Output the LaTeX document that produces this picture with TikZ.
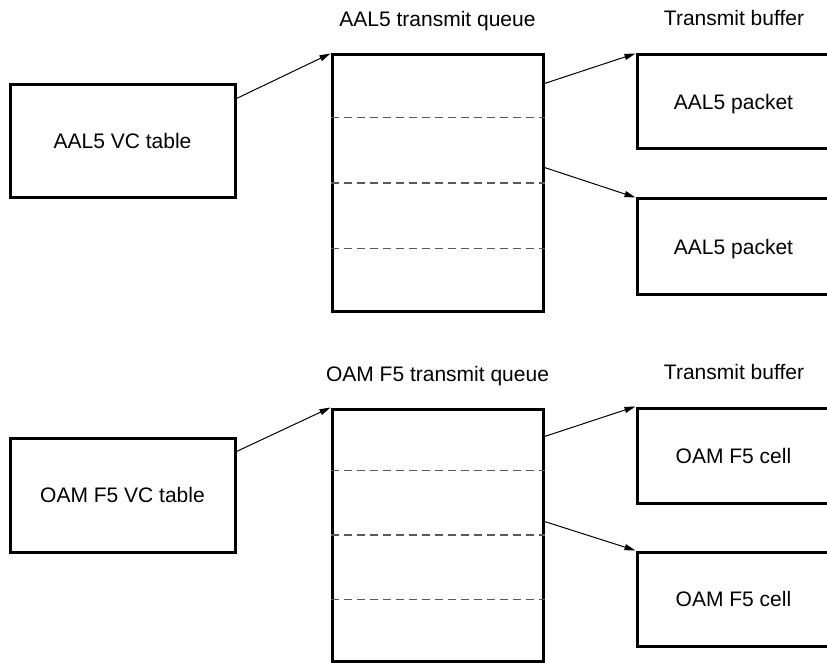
\documentclass[tikz,border=0pt]{standalone}
\usepackage{fontspec}
\setmainfont{Liberation Sans}
\usetikzlibrary{arrows.meta}
\begin{document}
\begin{tikzpicture}[x=1pt,y=-1pt,
  box/.style={draw, line width=3pt, inner sep=0pt, font=\fontsize{21}{25}\selectfont, text height=15pt, text depth=0pt},
  lbl/.style={font=\fontsize{21}{25}\selectfont, anchor=base, inner sep=0pt},
  sep/.style={draw=black!65, dash pattern=on 8pt off 5pt, line width=1.1pt},
  conn/.style={-{Triangle[length=11pt,width=6pt]}, line width=1pt}]
\useasboundingbox (0,0) rectangle (827,663);
\clip (0,0) rectangle (827,663);

% ---- AAL5 section ----
\node[lbl] (ql1) at (437.5,27) {AAL5 transmit queue};
\node[lbl] (bl1) at (734,26) {Transmit buffer};
\node[box, minimum width=225pt, minimum height=113pt] (vc1) at (122.5,141.5) {AAL5 VC table};
\node[box, minimum width=211pt, minimum height=256pt] (queue1) at (437.5,183) {};
\draw[sep] ([yshift=-64pt]queue1.north west) -- ([yshift=-64pt]queue1.north east);
\draw[sep] (queue1.west) -- (queue1.east);
\draw[sep] ([yshift=64pt]queue1.south west) -- ([yshift=64pt]queue1.south east);
\node[box, minimum width=193pt, minimum height=94pt] (buf1) at (733.5,102) {AAL5 packet};
\node[box, minimum width=193pt, minimum height=95pt] (buf2) at (733.5,246.5) {AAL5 packet};
\draw[conn] ([yshift=-15pt]vc1.north east) -- (queue1.north west);
\draw[conn] ([yshift=-30pt]queue1.north east) -- (buf1.north west);
\draw[conn] ([yshift=-114pt]queue1.north east) -- (buf2.north west);

% ---- OAM F5 section ----
\node[lbl] (ql2) at (437.5,381) {OAM F5 transmit queue};
\node[lbl] (bl2) at (734,379) {Transmit buffer};
\node[box, minimum width=225pt, minimum height=114pt] (vc2) at (122.5,495) {OAM F5 VC table};
\node[box, minimum width=211pt, minimum height=252pt] (queue2) at (437.5,535) {};
\draw[sep] ([yshift=-63pt]queue2.north west) -- ([yshift=-63pt]queue2.north east);
\draw[sep] (queue2.west) -- (queue2.east);
\draw[sep] ([yshift=63pt]queue2.south west) -- ([yshift=63pt]queue2.south east);
\node[box, minimum width=193pt, minimum height=95pt] (buf3) at (733.5,455.5) {OAM F5 cell};
\node[box, minimum width=193pt, minimum height=94pt] (buf4) at (733.5,599) {OAM F5 cell};
\draw[conn] ([yshift=-15pt]vc2.north east) -- (queue2.north west);
\draw[conn] ([yshift=-29pt]queue2.north east) -- (buf3.north west);
\draw[conn] ([yshift=-114pt]queue2.north east) -- (buf4.north west);
\end{tikzpicture}
\end{document}
